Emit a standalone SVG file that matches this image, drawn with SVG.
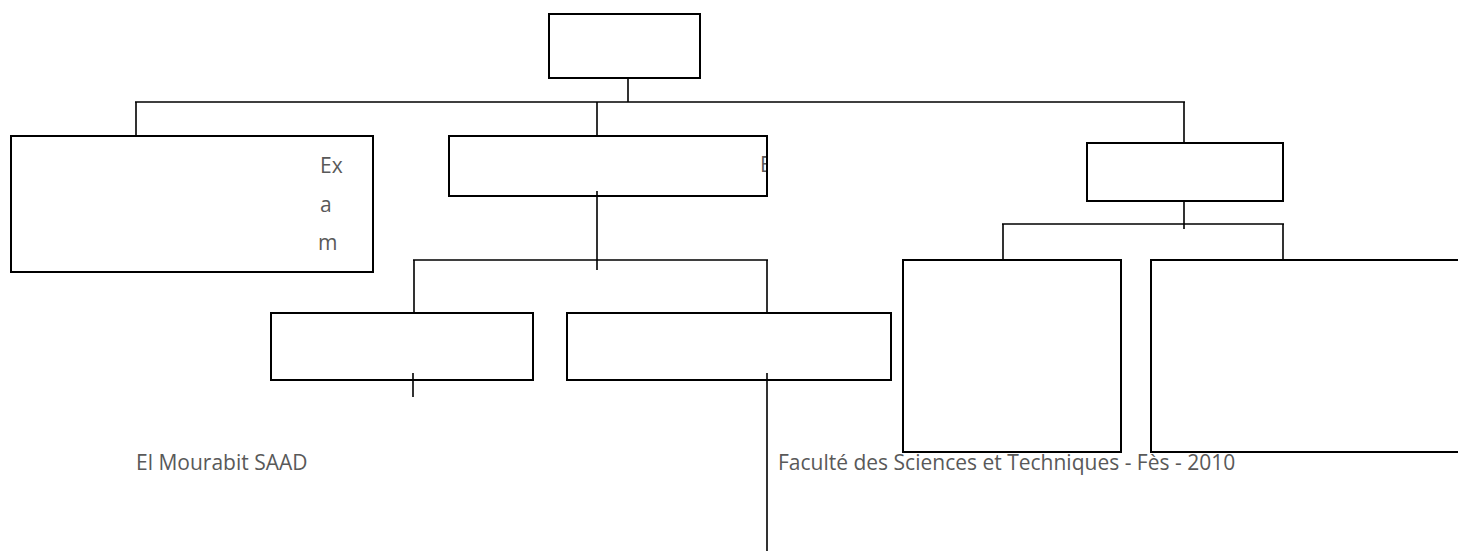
<svg xmlns="http://www.w3.org/2000/svg" width="1458" height="553" viewBox="0 0 1458 553">
<style>
.box{fill:#fff;stroke:#000;stroke-width:2}
.ln{stroke:#000;stroke-width:1.6;fill:none}
.t{font-family:"Open Sans","Noto Sans","Liberation Sans",sans-serif;font-size:21px;fill:#595959}
</style>
<defs>
<clipPath id="clipMid"><rect x="449" y="136" width="317" height="60"/></clipPath>
</defs>
<rect width="1458" height="553" fill="#fff"/>
<g id="top"><rect class="box" x="549" y="14" width="151" height="64"/></g>
<g id="left"><rect class="box" x="11" y="136" width="362" height="136"/>
<text class="t" x="320" y="173">Ex</text>
<text class="t" x="320" y="212">a</text>
<text class="t" x="318" y="250">m</text>
</g>
<g id="middle"><rect class="box" x="449" y="136" width="318" height="60"/>
<text class="t" x="760" y="172" clip-path="url(#clipMid)">E</text>
</g>
<g id="right"><rect class="box" x="1087" y="143" width="196" height="58"/></g>
<g id="midLeft"><rect class="box" x="271" y="313" width="262" height="67"/></g>
<g id="midRight"><rect class="box" x="567" y="313" width="324" height="67"/></g>
<g id="rightA"><rect class="box" x="903" y="260" width="218" height="192"/></g>
<g id="rightB"><rect class="box" x="1151" y="260" width="320" height="192"/></g>
<g id="connectors">
<path class="ln" d="M628 78V102M135 102H1185M136 102V136M597 102V136M1184 102V143"/>
<path class="ln" d="M597 191V270M413 260H768M414 260V313M767 260V313"/>
<path class="ln" d="M413 373V397M767 373V551"/>
<path class="ln" d="M1184 201V229M1002 224H1284M1003 224V260M1283 224V260"/>
</g>
<g id="footer">
<text class="t" x="136" y="470">El Mourabit SAAD</text>
<text class="t" x="778" y="470">Faculté des Sciences et Techniques - Fès - 2010</text>
</g>
</svg>
